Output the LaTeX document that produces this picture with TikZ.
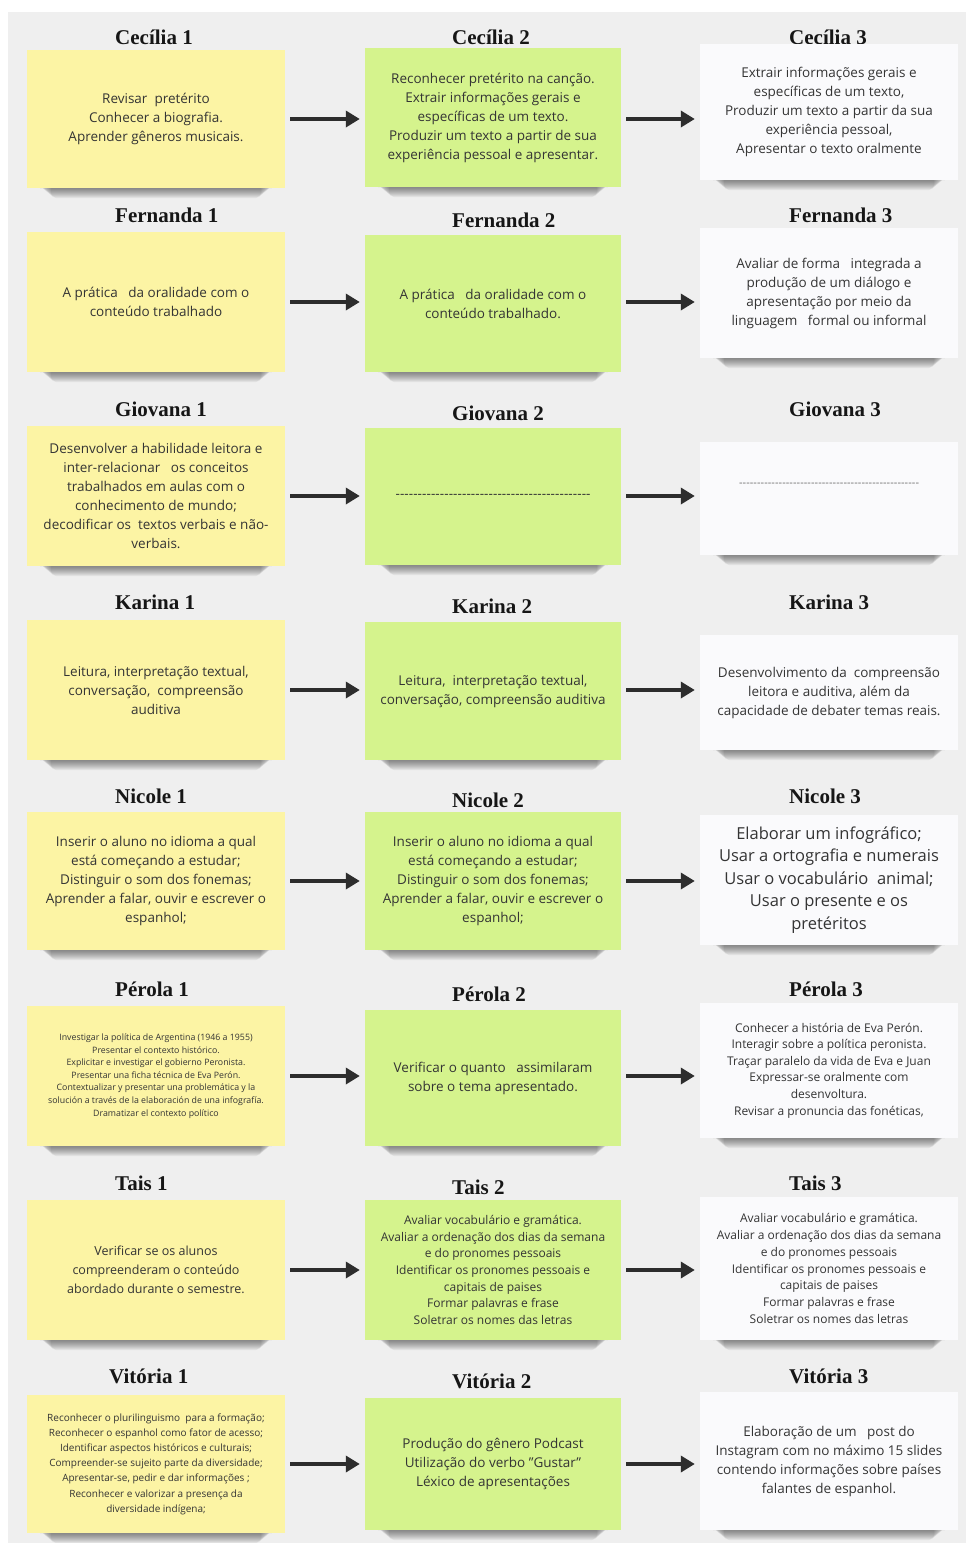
\documentclass[tikz,border=0pt]{standalone}
\usepackage{fontspec}
\setmainfont{Liberation Serif}
\newfontfamily\bodyfont{Open Sans}
\usetikzlibrary{arrows.meta}

\definecolor{pagebg}{RGB}{239,239,239}
\definecolor{notey}{RGB}{252,244,164}
\definecolor{noteg}{RGB}{213,243,141}
\definecolor{notew}{RGB}{250,250,252}
\definecolor{bodyc}{RGB}{52,52,52}
\definecolor{titlec}{RGB}{22,22,22}
\definecolor{arrowc}{RGB}{45,45,45}

% font size helper for the note texts
\newcommand\fsz[2]{\fontsize{#1}{#2}\selectfont}

\tikzset{
  x=1pt, y=-1pt,
  title/.style={anchor=west, inner sep=0pt, text=titlec,
    font=\fontsize{21}{24}\selectfont\bfseries},
  note/.style={inner sep=0pt, align=center, text=bodyc,
    font=\bodyfont\fsz{13.5}{19}},
  ynote/.style={note, fill=notey},
  gnote/.style={note, fill=noteg},
  wnote/.style={note, fill=notew},
  link/.style={draw=arrowc, line width=3.5pt,
    -{Triangle[length=14pt,width=16pt]}, shorten <=5pt, shorten >=5pt}
}

% a sticky note with a soft shadow under its lower edge
% #1 name, #2 left, #3 top, #4 right, #5 bottom, #6 style, #7 text
\newcommand\card[7]{%
  \foreach \k in {1,...,10}{%
    \fill[black, opacity=0.05, rounded corners=5pt]
      ({#2+12+1.2*\k},{#5-4}) rectangle ({#4-12-1.2*\k},{#5+\k});
  }%
  \pgfmathsetmacro\cw{#4-#2}\pgfmathsetmacro\ch{#5-#3}%
  \node[#6, minimum width=\cw pt, minimum height=\ch pt]
    (#1) at ({(#2+#4)/2},{(#3+#5)/2}) {#7};
}

% a row of dashes filling a given width
\newcommand\dashfill[1]{\hbox to #1{\xleaders\hbox{-}\hfill}}

\begin{document}
\begin{tikzpicture}
\useasboundingbox (0,0) rectangle (971,1543);
\fill[white] (0,0) rectangle (971,1543);
\fill[pagebg] (8,12) rectangle (966,1543);

% ---------- Cecília ----------
\node[title] (t11) at (115,37) {Cecília 1};
\node[title] (t12) at (452,37) {Cecília 2};
\node[title] (t13) at (789,37) {Cecília 3};
\card{y1}{27}{50}{285}{188}{ynote}{Revisar~ pretérito\\Conhecer a biografia.\\Aprender gêneros musicais.}
\card{g1}{365}{48}{621}{187}{gnote}{Reconhecer pretérito na canção.\\Extrair informações gerais e\\específicas de um texto.\\Produzir um texto a partir de sua\\experiência pessoal e apresentar.}
\card{w1}{700}{44}{958}{180}{wnote}{Extrair informações gerais e\\específicas de um texto,\\Produzir um texto a partir da sua\\experiência pessoal,\\Apresentar o texto oralmente}

% ---------- Fernanda ----------
\node[title] (t21) at (115,215) {Fernanda 1};
\node[title] (t22) at (452,220) {Fernanda 2};
\node[title] (t23) at (789,215) {Fernanda 3};
\card{y2}{27}{232}{285}{372}{ynote}{A prática~~ da oralidade com o\\conteúdo trabalhado}
\card{g2}{365}{235}{621}{372}{gnote}{A prática~~ da oralidade com o\\conteúdo trabalhado.}
\card{w2}{700}{228}{958}{358}{wnote}{Avaliar de forma~~ integrada a\\produção de um diálogo e\\apresentação por meio da\\linguagem~~ formal ou informal}

% ---------- Giovana ----------
\node[title] (t31) at (115,409) {Giovana 1};
\node[title] (t32) at (452,413) {Giovana 2};
\node[title] (t33) at (789,409) {Giovana 3};
\card{y3}{27}{426}{285}{566}{ynote}{Desenvolver a habilidade leitora e\\inter-relacionar~~ os conceitos\\trabalhados em aulas com o\\conhecimento de mundo;\\decodificar os~ textos verbais e não-\\verbais.}
\card{g3}{365}{428}{621}{565}{gnote}{\dashfill{195pt}}
\card{w3}{700}{442}{958}{555}{wnote, text=bodyc!70, font=\bodyfont\fsz{11}{21}}{\dashfill{180pt}\\\strut}

% ---------- Karina ----------
\node[title] (t41) at (115,602) {Karina 1};
\node[title] (t42) at (452,606) {Karina 2};
\node[title] (t43) at (789,602) {Karina 3};
\card{y4}{27}{620}{285}{760}{ynote}{Leitura, interpretação textual,\\conversação,~ compreensão\\auditiva}
\card{g4}{365}{622}{621}{760}{gnote}{Leitura,~ interpretação textual,\\conversação, compreensão auditiva}
\card{w4}{700}{635}{958}{750}{wnote}{Desenvolvimento da~ compreensão\\leitora e auditiva, além da\\capacidade de debater temas reais.}

% ---------- Nicole ----------
\node[title] (t51) at (115,796) {Nicole 1};
\node[title] (t52) at (452,800) {Nicole 2};
\node[title] (t53) at (789,796) {Nicole 3};
\card{y5}{27}{812}{285}{950}{ynote}{Inserir o aluno no idioma a qual\\está começando a estudar;\\Distinguir o som dos fonemas;\\Aprender a falar, ouvir e escrever o\\espanhol;}
\card{g5}{365}{812}{621}{950}{gnote}{Inserir o aluno no idioma a qual\\está começando a estudar;\\Distinguir o som dos fonemas;\\Aprender a falar, ouvir e escrever o\\espanhol;}
\card{w5}{700}{815}{958}{945}{wnote, font=\bodyfont\fsz{16.5}{22.5}}{Elaborar um infográfico;\\Usar a ortografia e numerais\\Usar o vocabulário~ animal;\\Usar o presente e os\\pretéritos}

% ---------- Pérola ----------
\node[title] (t61) at (115,989) {Pérola 1};
\node[title] (t62) at (452,994) {Pérola 2};
\node[title] (t63) at (789,989) {Pérola 3};
\card{y6}{27}{1006}{285}{1146}{ynote, font=\bodyfont\fsz{8.8}{12.6}}{Investigar la política de Argentina (1946 a 1955)\\Presentar el contexto histórico.\\Explicitar e investigar el gobierno Peronista.\\Presentar una ficha técnica de Eva Perón.\\Contextualizar y presentar una problemática y la\\solución a través de la elaboración de una infografía.\\Dramatizar el contexto político}
\card{g6}{365}{1010}{621}{1146}{gnote}{Verificar o quanto~~ assimilaram\\sobre o tema apresentado.}
\card{w6}{700}{1003}{958}{1138}{wnote, font=\bodyfont\fsz{12}{16.6}}{Conhecer a história de Eva Perón.\\Interagir sobre a política peronista.\\Traçar paralelo da vida de Eva e Juan\\Expressar-se oralmente com\\desenvoltura.\\Revisar a pronuncia das fonéticas,}

% ---------- Tais ----------
\node[title] (t71) at (115,1183) {Tais 1};
\node[title] (t72) at (452,1187) {Tais 2};
\node[title] (t73) at (789,1183) {Tais 3};
\card{y7}{27}{1200}{285}{1340}{ynote, font=\bodyfont\fsz{12.5}{19}}{Verificar se os alunos\\compreenderam o conteúdo\\abordado durante o semestre.}
\card{g7}{365}{1200}{621}{1340}{gnote, font=\bodyfont\fsz{12}{16.7}}{Avaliar vocabulário e gramática.\\Avaliar a ordenação dos dias da semana\\e do pronomes pessoais\\Identificar os pronomes pessoais e\\capitais de paises\\Formar palavras e frase\\Soletrar os nomes das letras}
\card{w7}{700}{1197}{958}{1340}{wnote, font=\bodyfont\fsz{12}{16.7}}{Avaliar vocabulário e gramática.\\Avaliar a ordenação dos dias da semana\\e do pronomes pessoais\\Identificar os pronomes pessoais e\\capitais de paises\\Formar palavras e frase\\Soletrar os nomes das letras}

% ---------- Vitória ----------
\node[title] (t81) at (109,1376) {Vitória 1};
\node[title] (t82) at (452,1381) {Vitória 2};
\node[title] (t83) at (789,1376) {Vitória 3};
\card{y8}{27}{1395}{285}{1533}{ynote, font=\bodyfont\fsz{10}{15.2}}{Reconhecer o plurilinguismo~ para a formação;\\Reconhecer o espanhol como fator de acesso;\\Identificar aspectos históricos e culturais;\\Compreender-se sujeito parte da diversidade;\\Apresentar-se, pedir e dar informações ;\\Reconhecer e valorizar a presença da\\diversidade indígena;}
\card{g8}{365}{1398}{621}{1530}{gnote}{Produção do gênero Podcast\\Utilização do verbo ”Gustar”\\Léxico de apresentações}
\card{w8}{700}{1392}{958}{1530}{wnote}{Elaboração de um~~ post do\\Instagram com no máximo 15 slides\\contendo informações sobre países\\falantes de espanhol.}

% ---------- connectors ----------
\foreach \r in {1,...,8}{
  \draw[link] (y\r.east) -- (g\r.west |- y\r.east);
  \draw[link] (g\r.east |- y\r.east) -- (w\r.west |- y\r.east);
}
\end{tikzpicture}
\end{document}
